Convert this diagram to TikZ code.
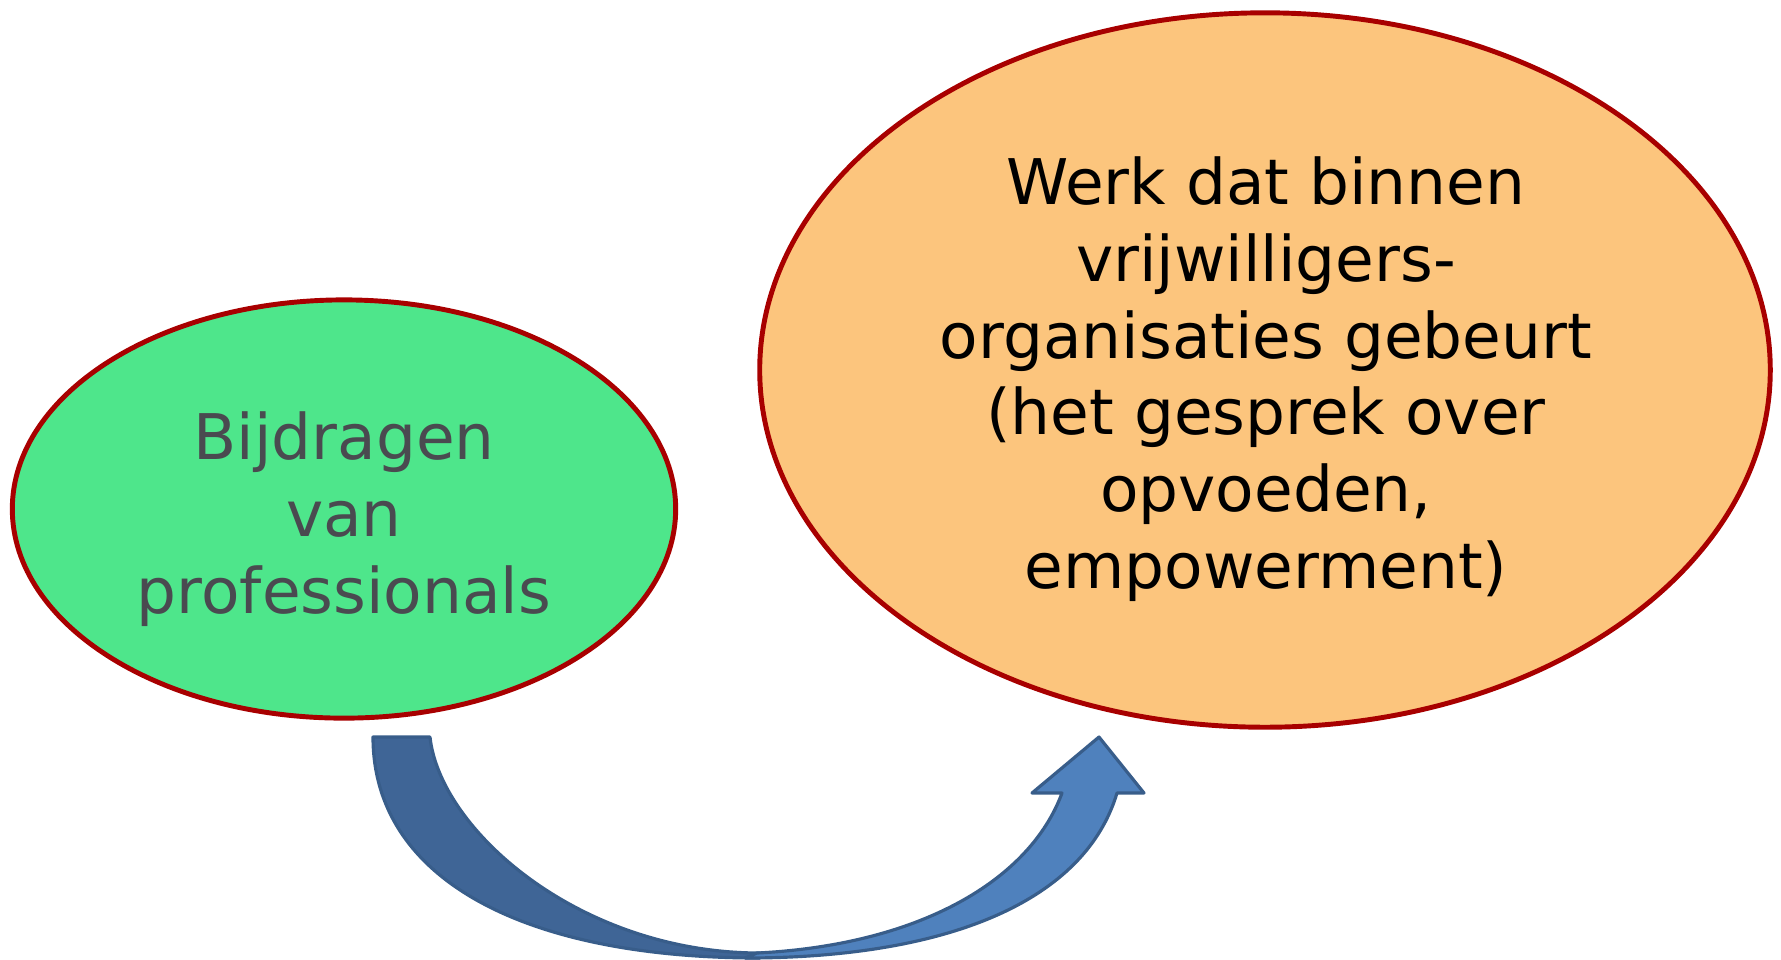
\documentclass[tikz,border=0pt]{standalone}
\usepackage{fontspec}
\setmainfont{DejaVu Sans}
\usetikzlibrary{shapes.geometric}
\definecolor{greenfill}{RGB}{78,230,139}
\definecolor{orangefill}{RGB}{252,197,125}
\definecolor{rimred}{RGB}{168,0,0}
\definecolor{greytext}{RGB}{74,74,80}
\definecolor{arrowdark}{RGB}{63,101,150}
\definecolor{arrowlight}{RGB}{79,129,189}
\definecolor{arrowrim}{RGB}{56,93,138}
\tikzset{
  bubble/.style={ellipse, draw=rimred, line width=1.4pt, inner sep=0pt},
  bubbletext/.style={align=center, inner sep=0pt, font=\fontsize{17.9}{21.8}\selectfont},
  arrowpart/.style={draw=arrowrim, line width=0.9pt, line join=round}
}
\begin{document}
\begin{tikzpicture}[x=0.01cm, y=-0.01cm]
\useasboundingbox (0,0) rectangle (1781,959);
% ellipses
\node[bubble, fill=greenfill, minimum width=6.63cm, minimum height=4.18cm] (left) at (344,509) {};
\node[bubble, fill=orangefill, minimum width=10.10cm, minimum height=7.14cm] (right) at (1265,370) {};
% texts
\node[bubbletext, text=greytext] (lefttext) at (344,519) {Bijdragen\\van\\professionals};
\node[bubbletext, text=black] (righttext) at (1266,379) {Werk dat binnen\\vrijwilligers-\\organisaties gebeurt\\(het gesprek over\\opvoeden,\\empowerment)};
% curved arrow
\coordinate (stemL) at (373,737);
\coordinate (stemR) at (430,737);
\coordinate (bottom) at (760,958);
\coordinate (bottomin) at (760,953);
\coordinate (lightstart) at (745,958);
\coordinate (shaftR) at (1117,793);
\coordinate (headR) at (1144,793);
\coordinate (tip) at (1099,737);
\coordinate (headL) at (1032,793);
\coordinate (shaftL) at (1062,793);
\coordinate (lightend) at (757,953);
% back (dark) part
\path[arrowpart, fill=arrowdark] (stemL) .. controls (373,877) and (520,958) .. (bottom)
  -- (bottomin) .. controls (580,953) and (440,830) .. (stemR) -- cycle;
% front (light) part
\path[arrowpart, fill=arrowlight] (lightstart) .. controls (950,958) and (1085,900) .. (shaftR)
  -- (headR) -- (tip) -- (headL) -- (shaftL)
  .. controls (1030,880) and (920,945) .. (lightend) -- cycle;
\end{tikzpicture}
\end{document}
